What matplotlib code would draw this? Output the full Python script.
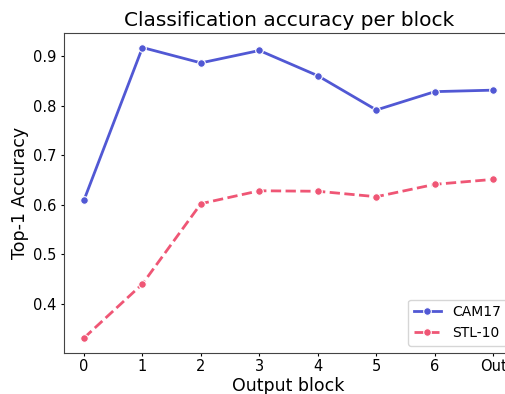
import matplotlib
matplotlib.use("Agg")
import matplotlib.pyplot as plt

blocks = ["0", "1", "2", "3", "4", "5", "6", "Out"]
cam17 = [0.609, 0.917, 0.886, 0.911, 0.860, 0.791, 0.828, 0.831]
stl10 = [0.331, 0.440, 0.602, 0.628, 0.627, 0.616, 0.641, 0.651]

fig = plt.figure(figsize=(5.05, 3.94), dpi=100)
W, H = 505, 394
l, r, t, b = 63.5, 513.8, 33, 352.5
ax = fig.add_axes([l / W, 1 - b / H, (r - l) / W, (b - t) / H])

x = list(range(len(blocks)))
ax.plot(x, cam17, color="#5158d4", lw=2, marker="o", ms=5.5,
        mec="white", mew=0.8, label="CAM17")
ax.plot(x, stl10, color="#ef5675", lw=2, ls="--", marker="o", ms=5.5,
        mec="white", mew=0.8, label="STL-10")

ax.set_xticks(x)
ax.set_xticklabels(blocks)
ax.set_yticks([0.4, 0.5, 0.6, 0.7, 0.8, 0.9])
ax.tick_params(labelsize=10.5, length=2.5, pad=2.5)
for s in ax.spines.values():
    s.set_color("#444444")
ax.set_xlabel("Output block", fontsize=12.5, labelpad=1.5)
ax.set_ylabel("Top-1 Accuracy", fontsize=12.5, labelpad=3)
ax.set_title("Classification accuracy per block", fontsize=14.5, pad=5)
ax.legend(loc="lower right", fontsize=10, borderaxespad=0.5)

fig.savefig("out.png", dpi=100)
